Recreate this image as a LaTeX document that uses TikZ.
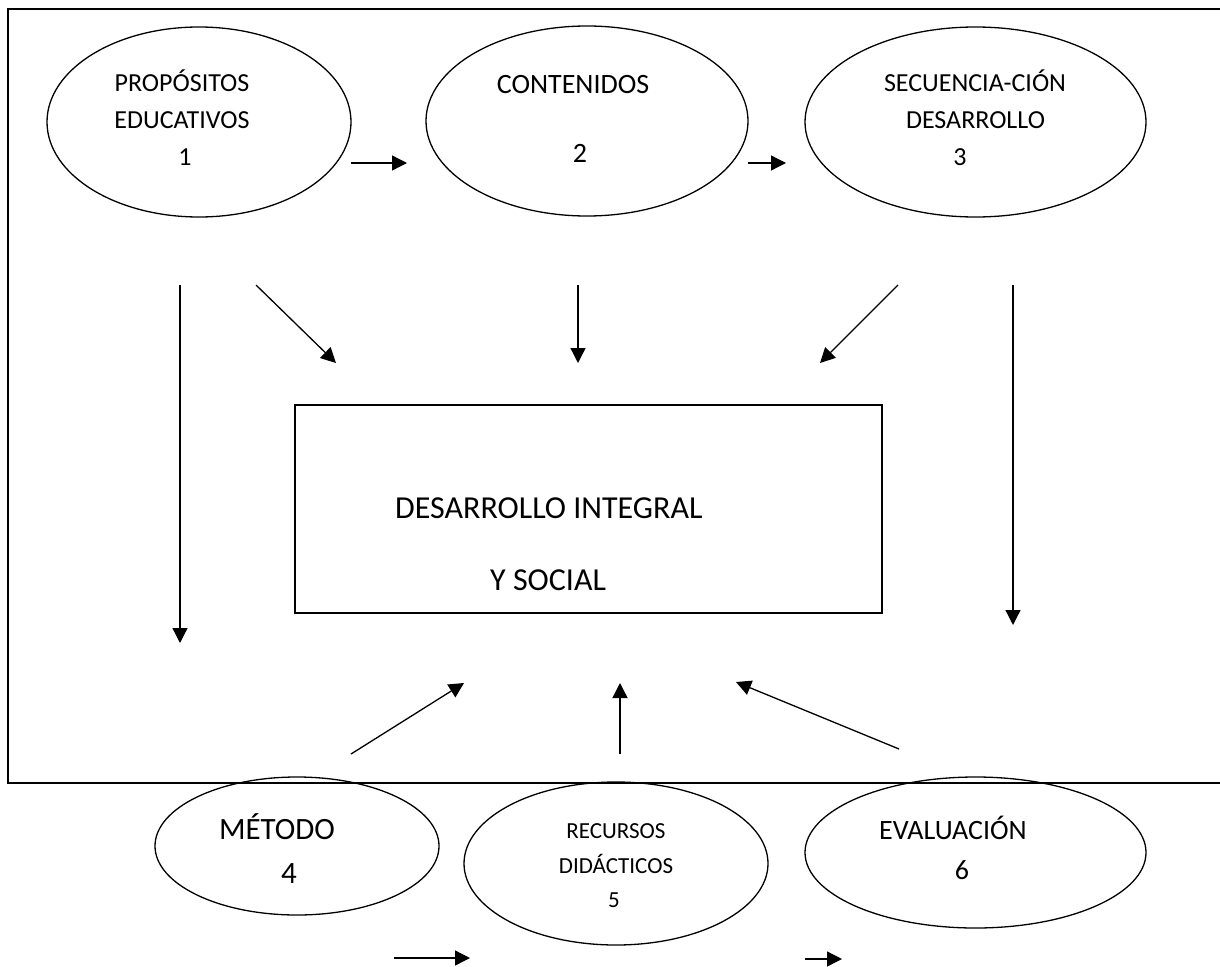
\documentclass[tikz,border=0pt]{standalone}
\usepackage{fontspec}
\setmainfont{Carlito}
\usetikzlibrary{shapes.geometric,arrows.meta}
\tikzset{
  oval/.style={draw, ellipse, line width=1.3pt, inner sep=0pt},
  lbl/.style={anchor=base, inner sep=0pt},
  arr/.style={line width=1.3pt, -{Triangle[length=15pt,width=15pt]}},
  sarr/.style={line width=1.3pt, -{Triangle[length=15pt,width=15pt]}},
}
\newcommand{\fs}[1]{\fontsize{#1}{#1}\selectfont}
\begin{document}
\begin{tikzpicture}[x=1pt,y=-1pt]
\useasboundingbox (0,0) rectangle (1220,966);
\clip (0,0) rectangle (1220,966);
% frame
\draw[line width=2pt] (1240,9) -- (8,9) -- (8,783) -- (1240,783);
% top ellipses
\node[oval, minimum width=304pt, minimum height=190pt] (e1) at (199,122) {};
\node[oval, minimum width=322pt, minimum height=190pt] (e2) at (587,121) {};
\node[oval, minimum width=341pt, minimum height=190pt] (e3) at (975.5,122) {};
\node[lbl] (t1a) at (182,92) {\fs{26}PROPÓSITOS};
\node[lbl] (t1b) at (182,128) {\fs{26}EDUCATIVOS};
\node[lbl] (t1c) at (185,165) {\fs{26}1};
\node[lbl] (t2a) at (573,93) {\fs{28}CONTENIDOS};
\node[lbl] (t2b) at (580,162) {\fs{28}2};
\node[lbl] (t3a) at (975,92) {\fs{26}SECUENCIA-CIÓN};
\node[lbl] (t3b) at (975.5,128) {\fs{26}DESARROLLO};
\node[lbl] (t3c) at (960,165) {\fs{26}3};
% central box
\node[draw, line width=1.3pt, minimum width=587pt, minimum height=208pt, inner sep=0pt] (box) at (588.5,509) {};
\node[lbl, anchor=base west] (tb1) at (395,518) {\fs{32}DESARROLLO INTEGRAL};
\node[lbl, anchor=base west] (tb2) at (490,590) {\fs{32}Y SOCIAL};
% bottom ellipses
\node[oval, minimum width=284pt, minimum height=138pt] (e4) at (297,846) {};
\node[oval, minimum width=304pt, minimum height=163pt] (e5) at (616,863.5) {};
\node[oval, minimum width=341pt, minimum height=151pt] (e6) at (975.5,852.5) {};
\node[lbl] (t4a) at (277,839) {\fs{31}MÉTODO};
\node[lbl] (t4b) at (289,883) {\fs{31}4};
\node[lbl] (t5a) at (616,838) {\fs{23}RECURSOS};
\node[lbl] (t5b) at (616,873) {\fs{23}DIDÁCTICOS};
\node[lbl] (t5c) at (614,907) {\fs{23}5};
\node[lbl] (t6a) at (953,839) {\fs{28}EVALUACIÓN};
\node[lbl] (t6b) at (962,879) {\fs{28}6};
% arrow end points
\coordinate (a12s) at (351,163); \coordinate (a12e) at (407,163);
\coordinate (a23s) at (748,163); \coordinate (a23e) at (786,163);
\coordinate (v1s) at (180,285);  \coordinate (v1e) at (180,643);
\coordinate (d1s) at (256,285);  \coordinate (d1e) at (336,363);
\coordinate (v2s) at (578,285);  \coordinate (v2e) at (578,363);
\coordinate (d3s) at (898,285);  \coordinate (d3e) at (820,363);
\coordinate (v3s) at (1013,285); \coordinate (v3e) at (1013,625);
\coordinate (u4s) at (351,754);  \coordinate (u4e) at (464,683);
\coordinate (u5s) at (620,754);  \coordinate (u5e) at (620,683);
\coordinate (u6s) at (899,749);  \coordinate (u6e) at (736,682);
\coordinate (b1s) at (394,958);  \coordinate (b1e) at (470,958);
\coordinate (b2s) at (805,959);  \coordinate (b2e) at (842,959);
% arrows
\draw[sarr] (a12s) -- (a12e);
\draw[sarr] (a23s) -- (a23e);
\draw[arr] (v1s) -- (v1e);
\draw[arr] (d1s) -- (d1e);
\draw[arr] (v2s) -- (v2e);
\draw[arr] (d3s) -- (d3e);
\draw[arr] (v3s) -- (v3e);
\draw[arr] (u4s) -- (u4e);
\draw[arr] (u5s) -- (u5e);
\draw[arr] (u6s) -- (u6e);
\draw[sarr] (b1s) -- (b1e);
\draw[sarr] (b2s) -- (b2e);
\end{tikzpicture}
\end{document}
